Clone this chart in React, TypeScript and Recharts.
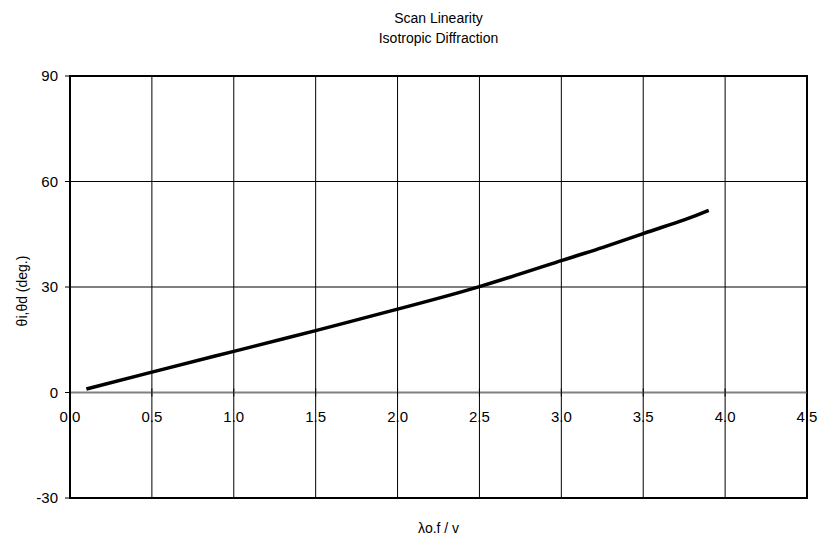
import React from "react";
import {
  LineChart,
  Line,
  XAxis,
  YAxis,
  CartesianGrid,
  ReferenceLine,
  ReferenceDot,
  ReferenceArea,
} from "recharts";

// values
const ratio = [0.1, 0.5, 1.0, 1.5, 2.0, 2.5, 3.0, 3.25, 3.5, 3.75, 3.9];
const theta = [1.0, 5.8, 11.7, 17.6, 23.7, 30.1, 37.5, 41.2, 45.2, 49.1, 51.8];
const xTicks = [0, 0.5, 1.0, 1.5, 2.0, 2.5, 3.0, 3.5, 4.0, 4.5];
const yTicks = [-30, 0, 30, 60, 90];

const data = ratio.map((r, i) => ({ r, t: theta[i] }));

const font = "'Liberation Sans', Arial, sans-serif";

// tick mark + label drawn on the zero line (axis crosses at y = 0)
function ZeroTick(props: any) {
  const { cx, cy, label } = props;
  return (
    <g>
      <line x1={cx} x2={cx} y1={cy - 4} y2={cy + 4} stroke="#000" strokeWidth={1} />
      <text x={cx} y={cy + 29} textAnchor="middle" fontSize={15} fontFamily={font} fill="#000">
        {label}
      </text>
    </g>
  );
}

export default function App() {
  return (
    <div style={{ position: "absolute", left: 0, top: 0, width: 818, height: 538, background: "#fff", fontFamily: font }}>
      <div style={{ position: "absolute", left: 70, width: 737, top: 8, textAlign: "center", fontSize: 14, lineHeight: "20px" }}>
        Scan Linearity
        <br />
        Isotropic Diffraction
      </div>
      <div style={{ position: "absolute", left: 70, width: 737, top: 518, textAlign: "center", fontSize: 14, lineHeight: "20px" }}>
        λo.f / v
      </div>
      <LineChart width={818} height={538} data={data} margin={{ top: 76, right: 11, bottom: 39, left: 0 }}>
        <CartesianGrid stroke="#000" strokeWidth={1} horizontalValues={yTicks} vertical={false} />
        {xTicks.slice(1, -1).map((v) => (
          <ReferenceLine key={"g" + v} x={v} stroke="#000" strokeWidth={1} />
        ))}
        <XAxis
          dataKey="r"
          type="number"
          domain={[0, 4.5]}
          ticks={xTicks}
          axisLine={false}
          tickLine={false}
          tick={false}
          height={1}
        />
        <YAxis
          type="number"
          domain={[-30, 90]}
          ticks={yTicks}
          width={70}
          axisLine={{ stroke: "#000", strokeWidth: 2 }}
          tickLine={{ stroke: "#000" }}
          tickSize={5}
          tickMargin={7}
          tick={{ fontSize: 15, fill: "#000", fontFamily: font }}
          label={{
            value: "θi,θd (deg.)",
            angle: -90,
            position: "insideLeft",
            offset: 22,
            dy: 4,
            style: { fontSize: 14, fill: "#000", fontFamily: font, textAnchor: "middle" },
          }}
        />
        <ReferenceLine y={0} stroke="#808080" strokeWidth={2} />
        <ReferenceArea x1={0} x2={4.5} y1={-30} y2={90} fill="none" stroke="#000" strokeWidth={2} ifOverflow="visible" />
        {xTicks.map((v) => (
          <ReferenceDot
            key={v}
            x={v}
            y={0}
            r={0}
            ifOverflow="visible"
            shape={(p: any) => <ZeroTick {...p} label={v.toFixed(1)} />}
          />
        ))}
        <Line
          dataKey="t"
          type="natural"
          stroke="#000"
          strokeWidth={3.5}
          dot={false}
          isAnimationActive={false}
        />
      </LineChart>
    </div>
  );
}
